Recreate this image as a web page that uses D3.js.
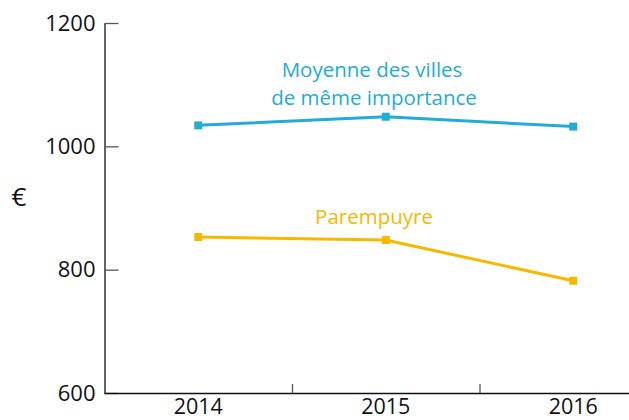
<!DOCTYPE html>
<html>
<head>
<meta charset="utf-8">
<script src="https://cdn.jsdelivr.net/npm/d3@7"></script>
<style>
  body { margin: 0; background: #fff; }
  text { font-family: 'Open Sans', 'Noto Sans', sans-serif; }
</style>
</head>
<body>
<div id="chart"></div>
<script>
const years = ['2014', '2015', '2016'];
const moyenneValues = [1034, 1048, 1032];
const parempuyreValues = [853, 848, 782];
const yTicks = [600, 800, 1000, 1200];
const seriesNames = ['Moyenne des villes', 'de même importance', 'Parempuyre'];

const width = 629;
const height = 420;

const svg = d3.select('#chart')
  .append('svg')
  .attr('width', width)
  .attr('height', height);

// x: band scale, last band runs past the right edge
const x = d3.scaleBand()
  .domain(years)
  .range([104.5, 667]);

const y = d3.scaleLinear()
  .domain([600, 1200])
  .range([393, 23]);

// y axis
const yAxis = svg.append('g')
  .attr('transform', 'translate(104.5,0)')
  .call(d3.axisRight(y).tickValues(yTicks).tickSize(14).tickSizeOuter(0).tickFormat(d3.format('d')));
yAxis.select('.domain').attr('stroke', '#111').attr('stroke-width', 1.3);
yAxis.selectAll('.tick line').attr('stroke', '#555').attr('stroke-width', 1.3);
yAxis.selectAll('.tick text')
  .attr('x', -9)
  .attr('text-anchor', 'end')
  .attr('font-size', 22)
  .attr('fill', '#111');

// x axis
const xAxis = svg.append('g')
  .attr('transform', 'translate(0,393)')
  .call(d3.axisBottom(x).tickSize(0).tickSizeOuter(0));
xAxis.select('.domain').attr('d', `M104.5,0.5H${width}`).attr('stroke', '#111').attr('stroke-width', 1.5);
xAxis.selectAll('.tick text')
  .attr('y', 6)
  .attr('dy', '0.71em')
  .attr('font-size', 21.5)
  .attr('fill', '#111');

// band separators
svg.append('g')
  .selectAll('line')
  .data(years.slice(1))
  .join('line')
  .attr('x1', (d) => x(d) + 0.5)
  .attr('x2', (d) => x(d) + 0.5)
  .attr('y1', 384)
  .attr('y2', 393)
  .attr('stroke', '#555')
  .attr('stroke-width', 1.3);

// euro label
svg.append('text')
  .attr('x', 19)
  .attr('y', 206)
  .attr('text-anchor', 'middle')
  .attr('font-size', 26)
  .attr('fill', '#111')
  .text('€');

const line = d3.line()
  .x((d, i) => x(years[i]) + x.bandwidth() / 2)
  .y((d) => y(d));

const drawSeries = (values, color) => {
  svg.append('path')
    .datum(values)
    .attr('fill', 'none')
    .attr('stroke', color)
    .attr('stroke-width', 3)
    .attr('d', line);

  svg.append('g')
    .selectAll('rect')
    .data(values)
    .join('rect')
    .attr('x', (d, i) => x(years[i]) + x.bandwidth() / 2 - 4)
    .attr('y', (d) => y(d) - 4)
    .attr('width', 8)
    .attr('height', 8)
    .attr('fill', color);
};

const blue = '#23acd5';
const orange = '#f6b800';

drawSeries(moyenneValues, blue);
drawSeries(parempuyreValues, orange);

// series labels
svg.append('text')
  .attr('x', 372)
  .attr('y', 77)
  .attr('text-anchor', 'middle')
  .attr('font-size', 20.5)
  .attr('fill', blue)
  .text(seriesNames[0]);

svg.append('text')
  .attr('x', 374)
  .attr('y', 105)
  .attr('text-anchor', 'middle')
  .attr('font-size', 20.5)
  .attr('fill', blue)
  .text(seriesNames[1]);

svg.append('text')
  .attr('x', 374)
  .attr('y', 224)
  .attr('text-anchor', 'middle')
  .attr('font-size', 20.5)
  .attr('fill', orange)
  .text(seriesNames[2]);
</script>
</body>
</html>
